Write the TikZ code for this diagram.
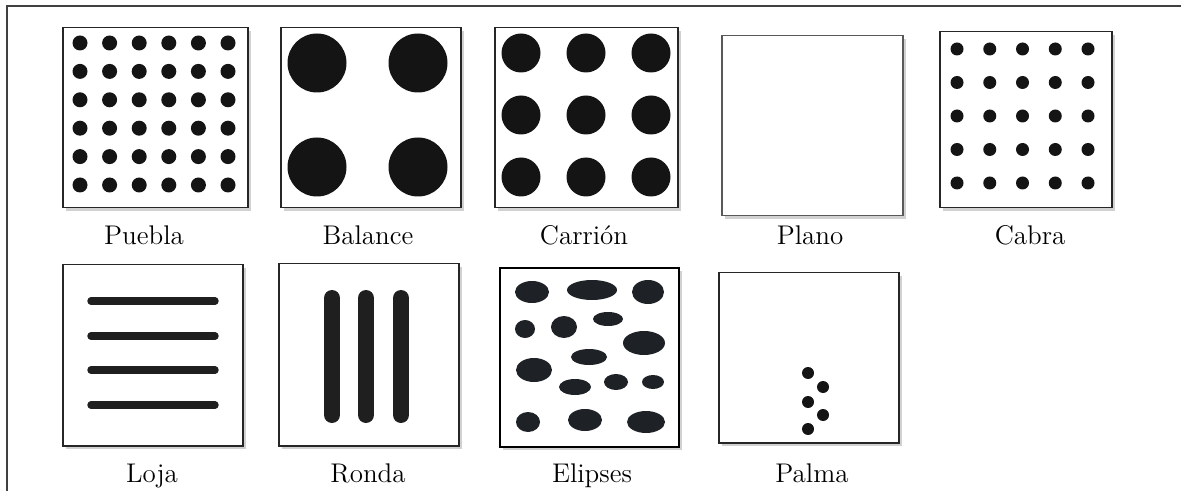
\documentclass[tikz,border=0pt]{standalone}
\usepackage{tikz}
\usetikzlibrary{shadows}

\definecolor{inkdark}{HTML}{1E2226}
\newcommand{\px}{0.5pt}

\begin{document}
\begin{tikzpicture}[
        x=0.5pt, y=-0.5pt,
        frame/.style={draw=black!75, line width=0.75pt},
        panel/.style={draw=black!85, line width=0.75pt, fill=white, inner sep=0pt, anchor=north west,
            drop shadow={shadow xshift=1.6pt, shadow yshift=-1.6pt, opacity=0.3, fill=black!60}},
        caption/.style={font=\fontsize{13.5}{16}\selectfont, anchor=base, inner sep=0pt},
        dot/.style={fill=black!92},
        blob/.style={fill=inkdark},
        stroke/.style={draw=black!88, line cap=round}
    ]
    \useasboundingbox (0,0) rectangle (1181,491);

    % Outer frame
    \draw[frame] (7,491) -- (7,6) -- (1181,6);

    % Panels (top row)
    \node[panel, minimum width=185*\px, minimum height=180*\px] (puebla) at (62,27) {};
    \node[panel, minimum width=180*\px, minimum height=180*\px] (balance) at (280,27) {};
    \node[panel, minimum width=183*\px, minimum height=180*\px] (carrion) at (494,27) {};
    \node[panel, draw=black!65, minimum width=181*\px, minimum height=180*\px] (plano) at (721,35) {};
    \node[panel, minimum width=172*\px, minimum height=176*\px] (cabra) at (939,31) {};

    % Panels (bottom row)
    \node[panel, minimum width=180*\px, minimum height=181*\px] (loja) at (62,264) {};
    \node[panel, minimum width=180*\px, minimum height=182*\px] (ronda) at (278,263) {};
    \node[panel, line width=1.2pt, draw=black, minimum width=179*\px, minimum height=179*\px] (elipses) at (499,267) {};
    \node[panel, minimum width=180*\px, minimum height=170*\px] (palma) at (718,272) {};

    % Puebla: 6x6 dots
    \foreach \i in {0,...,5} {
        \foreach \j in {0,...,5} {
            \pgfmathsetmacro{\x}{80 + 29.6*\i}
            \pgfmathsetmacro{\y}{43 + 28.4*\j}
            \fill[dot] (\x,\y) circle [radius=7.5];
        }
    }

    % Balance: 4 large dots
    \foreach \x/\y in {317/63, 418/63, 317/167, 418/167}
        \fill[dot] (\x,\y) circle [radius=29.5];

    % Carrion: 3x3 dots
    \foreach \i in {0,1,2} {
        \foreach \j in {0,1,2} {
            \pgfmathsetmacro{\x}{521 + 65*\i}
            \pgfmathsetmacro{\y}{53 + 62*\j}
            \fill[dot] (\x,\y) circle [radius=19.5];
        }
    }

    % Cabra: 5x5 dots
    \foreach \i in {0,...,4} {
        \foreach \j in {0,...,4} {
            \pgfmathsetmacro{\x}{957 + 32.75*\i}
            \pgfmathsetmacro{\y}{49 + 33.5*\j}
            \fill[dot] (\x,\y) circle [radius=6.5];
        }
    }

    % Loja: horizontal lines
    \foreach \y in {301, 336, 370, 405}
        \draw[stroke, line width=3.7pt] (91,\y) -- (215,\y);

    % Ronda: vertical bars
    \foreach \x in {332, 366, 401}
        \draw[stroke, line width=8pt] (\x,298) -- (\x,415);

    % Elipses
    \foreach \cx/\cy/\rx/\ry in {532/292/17/11, 592/290/25/10, 648/292/16/12,
            525/329/10/9, 564/327/13/11, 608/319/15/7, 644/343/21/12,
            589/357/18/8, 534/370/18/12, 575/387/16/8, 616/382/12/8,
            653/382/11/7, 528/422/12/10, 585/420/17/11, 646/422/19/11}
        \fill[blob] (\cx,\cy) ellipse [x radius=\rx, y radius=\ry];

    % Palma: five dots
    \foreach \x/\y in {808/373, 823/387, 808/402, 823/415, 808/429}
        \fill[dot] (\x,\y) circle [radius=6];

    % Captions
    \node[caption] (pueblaLbl) at (144,245) {Puebla};
    \node[caption] (balanceLbl) at (368,245) {Balance};
    \node[caption] (carrionLbl) at (584,245) {Carrión};
    \node[caption] (planoLbl) at (810,245) {Plano};
    \node[caption] (cabraLbl) at (1030,245) {Cabra};
    \node[caption] (lojaLbl) at (152,482) {Loja};
    \node[caption] (rondaLbl) at (368,482) {Ronda};
    \node[caption] (elipsesLbl) at (592,482) {Elipses};
    \node[caption] (palmaLbl) at (812,482) {Palma};

\end{tikzpicture}
\end{document}
